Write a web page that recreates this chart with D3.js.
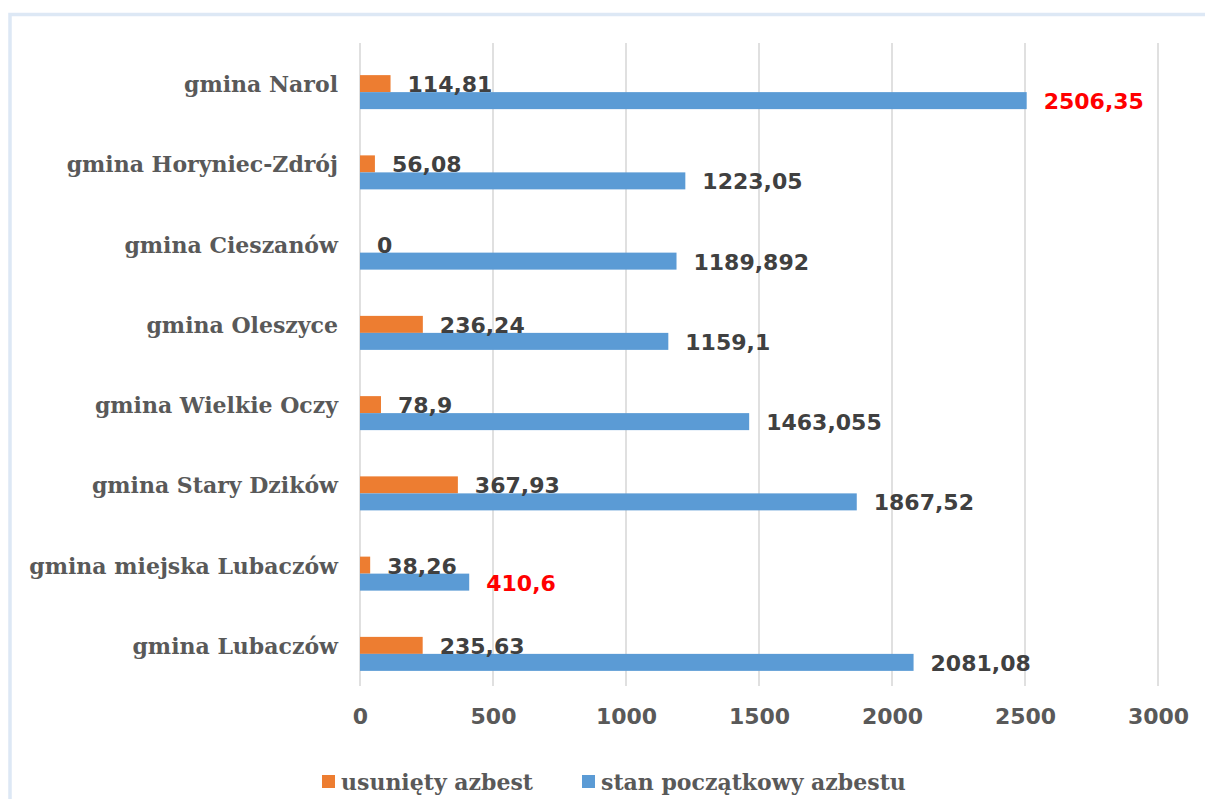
<!DOCTYPE html>
<html><head><meta charset="utf-8">
<script src="https://cdn.jsdelivr.net/npm/d3@7"></script>
<style>html,body{margin:0;padding:0;background:#fff;}svg{display:block;}</style>
</head><body>
<svg id="c" width="1205" height="799"></svg>
<script>
const categories = ["gmina Narol","gmina Horyniec-Zdrój","gmina Cieszanów","gmina Oleszyce","gmina Wielkie Oczy","gmina Stary Dzików","gmina miejska Lubaczów","gmina Lubaczów"];
const removed = [114.81, 56.08, 0, 236.24, 78.9, 367.93, 38.26, 235.63];
const initial = [2506.35, 1223.05, 1189.892, 1159.1, 1463.055, 1867.52, 410.6, 2081.08];
const seriesNames = ["usunięty azbest", "stan początkowy azbestu"];
const xTicks = [0, 500, 1000, 1500, 2000, 2500, 3000];

const svg = d3.select("#c");
const serif = "'DejaVu Serif', serif";
const sans = "'DejaVu Sans', sans-serif";

// frame
svg.append("rect").attr("x", 10).attr("y", 14.5).attr("width", 1230).attr("height", 820)
  .attr("fill", "none").attr("stroke", "#dde8f5").attr("stroke-width", 3.5);

const x = d3.scaleLinear().domain([0, 3000]).range([360, 1158]);
const y = d3.scaleBand().domain(categories).range([43, 685]).paddingInner(0).paddingOuter(0);

// gridlines
svg.append("g").selectAll("line").data(xTicks).join("line")
  .attr("x1", d => x(d)).attr("x2", d => x(d)).attr("y1", 43).attr("y2", 686)
  .attr("stroke", "#d9d9d9").attr("stroke-width", 1.6);

// x axis labels
const ax = svg.append("g").attr("transform", "translate(0,716)")
  .call(d3.axisBottom(x).tickValues(xTicks).tickSize(0).tickPadding(0).tickFormat(d => String(d)));
ax.select(".domain").remove();
ax.selectAll("text").attr("font-family", sans).attr("font-weight", "bold").attr("font-size", 22)
  .attr("fill", "#595959").attr("dy", "0.35em").attr("y", 0);

// category labels
svg.append("g").selectAll("text").data(categories).join("text")
  .attr("x", 338).attr("y", d => y(d) + y.bandwidth() / 2 + 1)
  .attr("text-anchor", "end").attr("dominant-baseline", "central")
  .attr("font-family", serif).attr("font-weight", "bold").attr("font-size", 22)
  .attr("fill", "#595959").text(d => d);

const fmt = v => String(v).replace(".", ",");
const bh = 17;
const oTop = d => y(d) + y.bandwidth() / 2 - 8;
const bTop = d => y(d) + y.bandwidth() / 2 + 9;

// orange bars
svg.append("g").selectAll("rect").data(categories).join("rect")
  .attr("x", x(0)).attr("y", d => oTop(d))
  .attr("width", (d, i) => x(removed[i]) - x(0)).attr("height", bh)
  .attr("fill", "#ed7d31");
// blue bars
svg.append("g").selectAll("rect").data(categories).join("rect")
  .attr("x", x(0)).attr("y", d => bTop(d))
  .attr("width", (d, i) => x(initial[i]) - x(0)).attr("height", bh)
  .attr("fill", "#5b9bd5");

const maxI = d3.max(initial), minI = d3.min(initial);
// labels orange
svg.append("g").selectAll("text").data(categories).join("text")
  .attr("x", (d, i) => x(removed[i]) + 17).attr("y", d => oTop(d) + bh / 2 + 1)
  .attr("dominant-baseline", "central")
  .attr("font-family", sans).attr("font-weight", "bold").attr("font-size", 22)
  .attr("fill", "#404040").text((d, i) => fmt(removed[i]));
// labels blue
svg.append("g").selectAll("text").data(categories).join("text")
  .attr("x", (d, i) => x(initial[i]) + 17).attr("y", d => bTop(d) + bh / 2 + 1)
  .attr("dominant-baseline", "central")
  .attr("font-family", sans).attr("font-weight", "bold").attr("font-size", 22)
  .attr("fill", (d, i) => (initial[i] === maxI || initial[i] === minI) ? "#ff0000" : "#404040")
  .text((d, i) => fmt(initial[i]));

// legend
const legColors = ["#ed7d31", "#5b9bd5"];
const legX = [322, 582];
const lg = svg.append("g").selectAll("g").data(seriesNames).join("g")
  .attr("transform", (d, i) => `translate(${legX[i]},775)`);
lg.append("rect").attr("width", 13).attr("height", 13).attr("fill", (d, i) => legColors[i]);
lg.append("text").attr("x", 19).attr("y", 7).attr("dominant-baseline", "central")
  .attr("font-family", serif).attr("font-weight", "bold").attr("font-size", 22)
  .attr("fill", "#595959").text(d => d);
</script>
</body></html>
